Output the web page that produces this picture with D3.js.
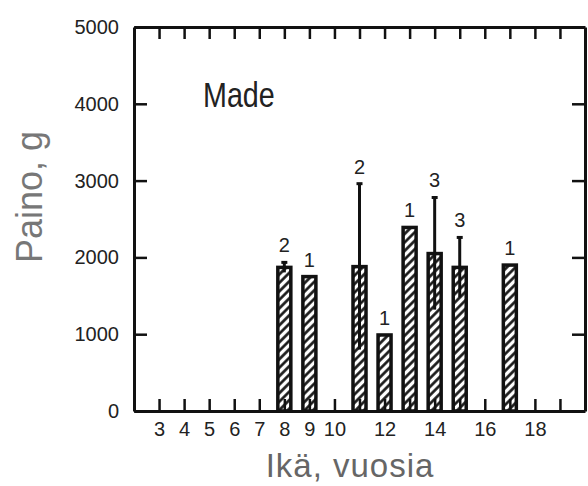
<!DOCTYPE html>
<html>
<head>
<meta charset="utf-8">
<style>
  body { margin: 0; background: #fff; }
  svg { display: block; }
  text { font-family: "Liberation Sans", Arial, sans-serif; }
  .axis path, .axis line { stroke: #111; }
</style>
</head>
<body>
<svg width="588" height="486"></svg>
<script src="https://cdn.jsdelivr.net/npm/d3@7/dist/d3.min.js"></script>
<script>

// ages (years) with a mean weight
var ages    = [8, 9, 11, 12, 13, 14, 15, 17];
// mean weight, g
var weights = [1870, 1750, 1880, 990, 2390, 2050, 1870, 1900];
// standard deviation, g (0 = none drawn)
var sds     = [65, 0, 1080, 0, 0, 730, 390, 0];
// number of fish
var counts  = [2, 1, 2, 1, 1, 3, 3, 1];

var xTicks      = d3.range(3, 20);
var xTickLabels = [3, 4, 5, 6, 7, 8, 9, 10, 12, 14, 16, 18];
var yTicks      = [0, 1000, 2000, 3000, 4000, 5000];

var svg = d3.select("svg"),
    plotL = 134, plotR = 585, plotT = 27, plotB = 411;

var x = d3.scaleLinear().domain([2, 20]).range([plotL, plotR]);
var y = d3.scaleLinear().domain([0, 5000]).range([plotB, plotT]);

var data = ages.map(function(a, i) {
  return { age: a, w: weights[i], sd: sds[i], n: counts[i] };
});

// hatch fill for bars
var defs = svg.append("defs");
defs.append("pattern")
    .attr("id", "hatch")
    .attr("patternUnits", "userSpaceOnUse")
    .attr("width", 6)
    .attr("height", 6)
    .attr("patternTransform", "rotate(45)")
  .append("line")
    .attr("x1", 1.5).attr("y1", 0)
    .attr("x2", 1.5).attr("y2", 6)
    .attr("stroke", "#111")
    .attr("stroke-width", 2.6);

// axes (ticks pointing inward)
svg.append("g").attr("class", "axis")
    .attr("transform", "translate(0," + plotB + ")")
    .call(d3.axisBottom(x).tickValues(xTicks).tickSizeInner(-12).tickSizeOuter(0).tickPadding(11)
      .tickFormat(function(d) { return xTickLabels.indexOf(d) >= 0 ? d : ""; }));

svg.append("g").attr("class", "axis")
    .attr("transform", "translate(0," + plotT + ")")
    .call(d3.axisTop(x).tickValues(xTicks).tickSizeInner(-12).tickSizeOuter(0).tickFormat(""));

svg.append("g").attr("class", "axis")
    .attr("transform", "translate(" + plotL + ",0)")
    .call(d3.axisLeft(y).tickValues(yTicks).tickSizeInner(-13).tickSizeOuter(0).tickPadding(15)
      .tickFormat(d3.format("d")));

svg.append("g").attr("class", "axis")
    .attr("transform", "translate(" + plotR + ",0)")
    .call(d3.axisRight(y).tickValues(yTicks).tickSizeInner(-13).tickSizeOuter(0).tickFormat(""));

svg.selectAll(".axis").attr("font-size", 20).attr("font-family", "'Liberation Sans', Arial, sans-serif");
svg.selectAll(".axis path").attr("stroke-width", 3);
svg.selectAll(".axis line").attr("stroke-width", 2.5);
svg.selectAll(".axis text").attr("fill", "#222");

// bars
var barW = 13;
var bars = svg.append("g");

bars.selectAll("rect")
    .data(data)
    .enter().append("rect")
      .attr("x", function(d) { return x(d.age) - barW / 2; })
      .attr("y", function(d) { return y(d.w); })
      .attr("width", barW)
      .attr("height", function(d) { return y(0) - y(d.w); })
      .attr("fill", "url(#hatch)")
      .attr("stroke", "#111")
      .attr("stroke-width", 3.5);

// error bars
var err = data.filter(function(d) { return d.sd > 0; });

bars.selectAll(".err")
    .data(err)
    .enter().append("line")
      .attr("class", "err")
      .attr("x1", function(d) { return x(d.age); })
      .attr("x2", function(d) { return x(d.age); })
      .attr("y1", function(d) { return y(d.w - d.sd); })
      .attr("y2", function(d) { return y(d.w + d.sd); })
      .attr("stroke", "#111")
      .attr("stroke-width", 3);

bars.selectAll(".cap")
    .data(err)
    .enter().append("line")
      .attr("class", "cap")
      .attr("x1", function(d) { return x(d.age) - 3; })
      .attr("x2", function(d) { return x(d.age) + 3; })
      .attr("y1", function(d) { return y(d.w + d.sd); })
      .attr("y2", function(d) { return y(d.w + d.sd); })
      .attr("stroke", "#111")
      .attr("stroke-width", 3);

// counts above bars
bars.selectAll(".count")
    .data(data)
    .enter().append("text")
      .attr("class", "count")
      .attr("x", function(d) { return x(d.age); })
      .attr("y", function(d) { return y(d.w + d.sd) - 10; })
      .attr("text-anchor", "middle")
      .attr("fill", "#222")
      .style("font-size", "20px")
      .text(function(d) { return d.n; });

// panel label
svg.append("text")
    .attr("transform", "translate(203,107) scale(0.82,1)")
    .attr("fill", "#222")
    .style("font-size", "35px")
    .text("Made");

// axis titles
svg.append("text")
    .attr("transform", "translate(42,197) rotate(-90)")
    .attr("text-anchor", "middle")
    .attr("fill", "#777")
    .style("font-size", "36px")
    .text("Paino, g");

svg.append("text")
    .attr("x", 350)
    .attr("y", 477)
    .attr("text-anchor", "middle")
    .attr("fill", "#666")
    .style("font-size", "33px")
    .style("letter-spacing", "1px")
    .text("Ikä, vuosia");

</script>
</body>
</html>
